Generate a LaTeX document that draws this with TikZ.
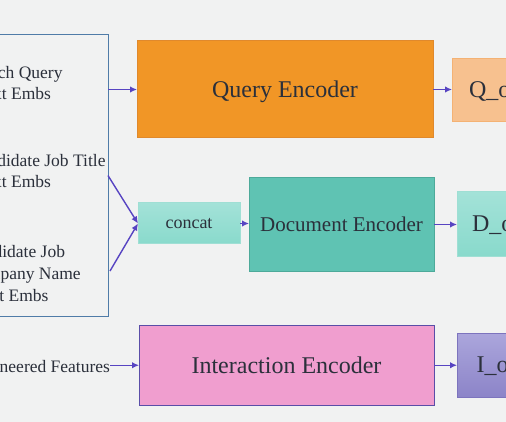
\documentclass[tikz,border=0pt]{standalone}
\usepackage{fontspec}
\setmainfont{Liberation Serif}
\usetikzlibrary{arrows.meta}
\definecolor{bgc}{HTML}{F1F2F2}
\definecolor{txt}{HTML}{2B303B}
\definecolor{arr}{HTML}{5744C2}
\definecolor{qfill}{HTML}{F19626}
\definecolor{qdraw}{HTML}{E0892C}
\definecolor{qofill}{HTML}{F7C18F}
\definecolor{qodraw}{HTML}{F4B274}
\definecolor{dfill}{HTML}{5FC3B3}
\definecolor{ddraw}{HTML}{4DAA9A}
\definecolor{ctop}{HTML}{A3E2D8}
\definecolor{cbot}{HTML}{89DACC}
\definecolor{cdraw}{HTML}{9FDFD4}
\definecolor{ifill}{HTML}{F09ECF}
\definecolor{idraw}{HTML}{5A4EA8}
\definecolor{iotop}{HTML}{ABA6DC}
\definecolor{iobot}{HTML}{8C84C8}
\definecolor{iodraw}{HTML}{7D74BE}
\definecolor{lbdraw}{HTML}{4F7CA8}
\tikzset{
  box/.style={rectangle, inner sep=0pt, outer sep=0pt, line width=1pt, text=txt, text depth=0pt, anchor=north west},
  big/.style={font=\fontsize{24}{28}\selectfont},
  mid/.style={font=\fontsize{21}{25}\selectfont},
  small/.style={font=\fontsize{18}{22}\selectfont},
  lbl/.style={inner sep=0pt, outer sep=0pt, text=txt, anchor=base east, font=\fontsize{17.5}{21.5}\selectfont},
  conn/.style={draw=arr, line width=1.4pt, -{Latex[length=7pt,width=6.5pt]}},
}
\begin{document}
\begin{tikzpicture}[x=1pt,y=-1pt]
\useasboundingbox (0,0) rectangle (506,422);
\clip (0,0) rectangle (506,422);
\fill[bgc] (-10,-10) rectangle (516,432);
% left input box
\node[box, draw=lbdraw, minimum width=170pt, minimum height=282.5pt] (lb) at (-62,34.3) {};
\node[lbl] (sq1) at (62.5,79) {Search Query};
\node[lbl] (sq2) at (51,100) {Text Embs};
\node[lbl] (jt1) at (105.5,166.7) {Candidate Job Title};
\node[lbl] (jt2) at (51,187.7) {Text Embs};
\node[lbl] (cn1) at (65,258) {Candidate Job};
\node[lbl] (cn2) at (80.7,279.3) {Company Name};
\node[lbl] (cn3) at (48.5,301.7) {Text Embs};
\node[lbl] (ef) at (110,372.5) {Engineered Features};
\coordinate (c2) at (110,271);
% encoders
\node[box, big, fill=qfill, draw=qdraw, minimum width=296pt, minimum height=97pt] (qe) at (137,41) {Query Encoder};
\node[box, small, top color=ctop, bottom color=cbot, draw=cdraw, minimum width=102pt, minimum height=41pt] (cc) at (138,203) {concat};
\node[box, mid, fill=dfill, draw=ddraw, minimum width=185pt, minimum height=93pt] (de) at (249,178) {Document Encoder};
\node[box, big, fill=ifill, draw=idraw, minimum width=295pt, minimum height=80.5pt] (ie) at (139,325) {Interaction Encoder};
% outputs
\node[box, big, fill=qofill, draw=qodraw, minimum width=94pt, minimum height=63.5pt] (qo) at (452,58.3) {Q\_out};
\node[box, big, top color=ctop, bottom color=cbot, draw=cdraw, minimum width=90pt, minimum height=64pt] (do) at (457,192) {D\_out};
\node[box, big, top color=iotop, bottom color=iobot, draw=iodraw, minimum width=90pt, minimum height=64pt] (io) at (457,333) {I\_out};
% connectors
\draw[conn] (lb.east |- qe.west) -- (qe.west);
\draw[conn] (lb.east) -- (cc.west);
\draw[conn] (c2) -- (cc.west);
\draw[conn] (cc.east) -- (cc.east -| de.west);
\draw[conn] (ef.east |- ie.west) -- (ie.west);
\draw[conn] (qe.east) -- (qe.east -| qo.west);
\draw[conn] (de.east) -- (de.east -| do.west);
\draw[conn] (ie.east) -- (ie.east -| io.west);
\end{tikzpicture}
\end{document}
